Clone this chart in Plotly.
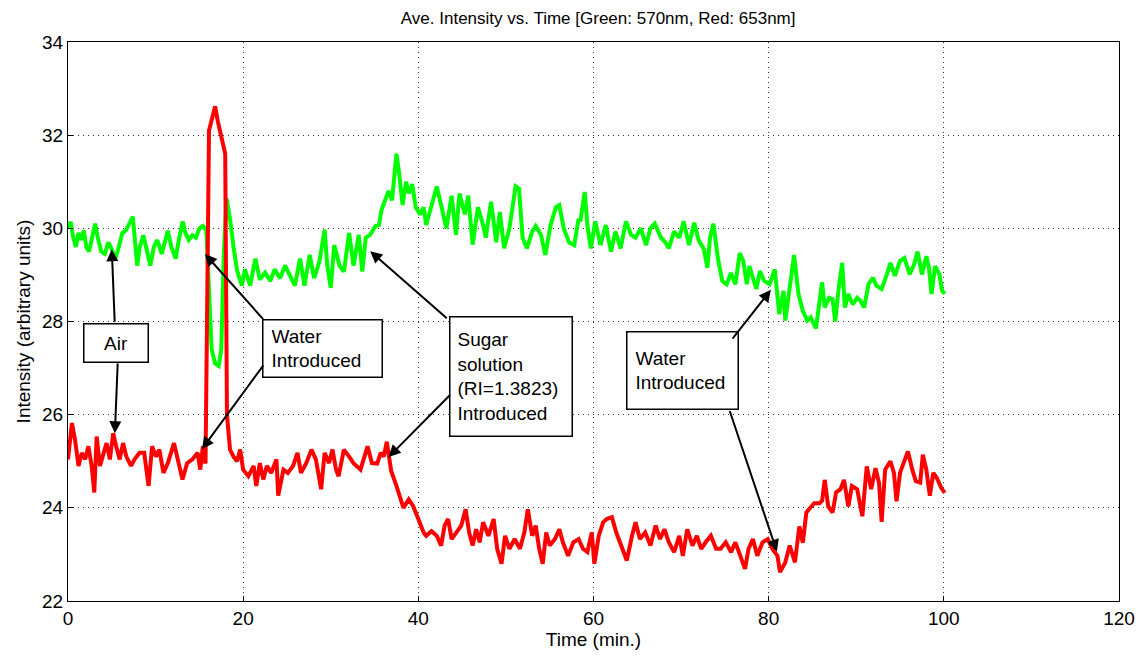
import plotly.graph_objects as go

# Average intensity at 570 nm (green channel)
green_t = [0.0, 0.3, 0.6, 0.9, 1.2, 1.5, 1.8, 2.1, 2.4, 2.7, 3.1, 3.4, 3.8, 4.2, 4.6, 5.0, 5.4, 5.8, 6.2, 6.6,
           7.0, 7.4, 7.9, 8.2, 8.6, 9.0, 9.4, 9.8, 10.2, 10.7, 11.0, 11.4, 11.8, 12.3, 12.6, 13.1, 13.4, 13.8, 14.2, 14.6,
           15.0, 15.4, 15.8, 16.1, 16.4, 16.8, 17.2, 17.5, 17.8, 18.1, 18.5, 18.9, 19.3, 19.85, 20.2, 20.8, 21.4, 21.9, 22.5, 23.1,
           23.6, 24.2, 24.8, 25.3, 25.9, 26.5, 27.0, 27.6, 28.1, 28.7, 29.3, 29.6, 30.0, 30.4, 31.0, 31.5, 32.1, 32.6, 33.2, 33.6,
           34.0, 34.5, 35.1, 35.5, 35.8, 36.2, 36.6, 37.0, 37.5, 37.8, 38.2, 38.6, 38.9, 39.3, 39.7, 40.2, 40.6, 40.9, 41.5, 42.1,
           42.6, 43.2, 43.8, 44.3, 44.7, 45.3, 45.7, 46.2, 46.8, 47.4, 47.7, 48.3, 48.9, 49.3, 49.8, 50.4, 51.1, 51.5, 51.9, 52.4,
           53.0, 53.4, 54.0, 54.5, 55.1, 55.7, 56.1, 56.6, 57.2, 57.8, 58.3, 58.5, 59.0, 59.3, 59.7, 60.2, 60.8, 61.4, 62.0, 62.5,
           63.1, 63.7, 64.3, 64.8, 65.4, 66.0, 66.5, 67.0, 67.7, 68.2, 68.6, 69.2, 69.8, 70.3, 70.9, 71.5, 72.0, 72.6, 73.0, 73.3,
           73.7, 74.2, 74.7, 75.2, 75.7, 76.2, 76.7, 77.1, 77.5, 77.8, 78.2, 78.6, 79.0, 79.5, 80.1, 80.7, 81.2, 81.7, 81.9, 82.4,
           82.9, 83.4, 83.9, 84.4, 84.8, 85.4, 85.8, 86.1, 86.4, 86.9, 87.3, 87.6, 88.0, 88.4, 88.7, 89.1, 89.6, 90.1, 90.5, 90.9,
           91.4, 91.9, 92.3, 92.9, 93.5, 93.9, 94.4, 95.0, 95.5, 96.1, 96.6, 97.0, 97.5, 98.0, 98.3, 98.6, 99.0, 99.5, 99.8, 100.1]
green_v = [30.0, 30.14, 29.8, 29.6, 29.9, 29.75, 29.95, 29.6, 29.5, 29.75, 30.1, 29.8, 29.5, 29.45, 29.7, 29.55, 29.35, 29.6, 29.9, 29.95,
           30.1, 30.25, 29.2, 29.6, 29.85, 29.5, 29.2, 29.6, 29.75, 29.45, 29.7, 29.95, 29.6, 29.35, 29.7, 30.15, 29.9, 29.75, 29.85, 29.8,
           30.0, 30.05, 29.95, 28.5, 27.4, 27.1, 27.05, 27.4, 29.5, 30.65, 30.2, 29.6, 29.1, 28.77, 29.12, 28.77, 29.35, 28.9, 29.05, 28.87,
           29.12, 28.93, 29.2, 29.0, 28.77, 29.35, 28.77, 29.43, 28.93, 29.28, 29.97, 29.2, 28.72, 29.64, 29.2, 29.07, 29.9, 29.2, 29.86, 29.07,
           29.8, 29.86, 30.05, 30.07, 30.4, 30.6, 30.8, 30.6, 31.6, 31.2, 30.5, 31.0, 30.75, 30.95, 30.45, 30.3, 30.45, 30.07, 30.45, 30.9,
           30.5, 30.0, 30.7, 29.86, 30.75, 30.3, 30.7, 29.65, 30.45, 30.07, 29.8, 30.57, 29.7, 30.35, 29.57, 30.0, 30.9, 30.85, 29.8, 29.57,
           29.93, 30.05, 29.86, 29.43, 30.07, 30.45, 30.5, 30.0, 29.7, 29.64, 30.2, 30.15, 30.78, 30.07, 29.57, 30.15, 29.64, 30.07, 29.5, 29.93,
           29.57, 30.15, 29.86, 29.8, 30.0, 29.64, 30.0, 30.1, 29.8, 29.7, 29.57, 29.93, 29.8, 30.15, 29.64, 30.12, 29.75, 29.55, 29.15, 29.79,
           30.1, 29.36, 28.87, 28.8, 29.04, 28.8, 29.47, 29.3, 28.8, 29.19, 28.94, 28.7, 29.08, 28.87, 28.8, 29.12, 28.16, 28.66, 28.02, 28.8,
           29.43, 28.59, 28.23, 28.02, 28.09, 27.85, 28.37, 28.84, 28.3, 28.51, 28.48, 28.0, 28.73, 29.26, 28.3, 28.59, 28.37, 28.51, 28.44, 28.3,
           28.8, 28.94, 28.77, 28.7, 29.01, 29.26, 28.98, 29.3, 29.36, 29.01, 29.22, 29.5, 29.01, 29.4, 29.15, 28.59, 29.19, 29.01, 28.66, 28.59]

# Average intensity at 653 nm (red channel)
red_t = [0.0, 0.45, 0.8, 1.2, 1.58, 1.96, 2.33, 2.7, 3.0, 3.27, 3.65, 4.03, 4.4, 4.78, 5.16, 5.5, 5.9, 6.29, 6.66, 7.2,
         7.6, 8.17, 8.7, 9.2, 9.6, 10.05, 10.43, 10.9, 11.4, 12.1, 12.6, 13.07, 13.6, 14.2, 14.8, 15.1, 15.4, 15.7, 16.1, 16.5,
         16.8, 17.1, 17.4, 17.7, 17.95, 18.15, 18.5, 18.9, 19.3, 19.65, 20.0, 20.6, 21.2, 21.5, 21.9, 22.3, 22.7, 23.2, 23.8, 24.0,
         24.6, 25.1, 25.7, 26.2, 26.6, 27.2, 27.8, 28.3, 28.9, 29.3, 29.8, 30.2, 30.6, 30.9, 31.5, 32.1, 32.6, 33.4, 34.2, 34.7,
         35.3, 35.7, 36.05, 36.4, 36.7, 36.9, 37.5, 38.3, 38.9, 39.4, 40.0, 40.6, 40.9, 41.5, 42.1, 42.6, 43.0, 43.4, 43.8, 44.3,
         44.9, 45.4, 45.8, 46.2, 46.6, 47.0, 47.4, 48.0, 48.6, 49.0, 49.5, 49.9, 50.4, 51.0, 51.6, 52.1, 52.5, 53.0, 53.4, 53.8,
         54.2, 54.6, 55.0, 55.6, 56.1, 56.5, 57.1, 57.7, 58.3, 58.8, 59.3, 59.8, 60.1, 60.6, 61.1, 61.5, 62.1, 62.6, 63.2, 63.8,
         64.4, 64.8, 65.3, 65.9, 66.5, 67.1, 67.6, 68.1, 68.6, 69.2, 69.8, 70.2, 70.7, 71.3, 71.8, 72.3, 72.8, 73.4, 74.0, 74.5,
         75.1, 75.7, 76.2, 76.8, 77.3, 77.7, 78.2, 78.7, 79.3, 79.9, 80.4, 81.0, 81.3, 81.9, 82.4, 83.0, 83.5, 83.9, 84.3, 84.6,
         85.2, 85.8, 86.1, 86.4, 86.8, 87.3, 87.7, 88.2, 88.6, 89.1, 89.5, 90.1, 90.7, 91.2, 91.7, 92.2, 92.6, 92.9, 93.3, 93.9,
         94.3, 94.6, 95.0, 95.4, 95.9, 96.4, 96.8, 97.3, 97.6, 98.0, 98.4, 98.8, 99.2, 99.7, 100.1]
red_v = [25.04, 25.82, 25.46, 24.9, 25.18, 25.04, 25.32, 24.9, 24.33, 25.53, 24.9, 25.18, 25.39, 25.04, 25.6, 25.32, 25.04, 25.39, 25.1, 24.9,
         25.04, 25.18, 25.18, 24.47, 25.32, 25.1, 25.25, 24.75, 24.96, 25.39, 24.96, 24.61, 24.96, 25.04, 25.18, 24.82, 25.32, 24.95, 32.1, 32.45,
         32.62, 32.3, 32.05, 31.75, 31.6, 26.0, 25.25, 25.1, 25.0, 25.25, 24.82, 24.68, 24.9, 24.47, 24.96, 24.61, 24.9, 24.75, 25.04, 24.26,
         24.82, 24.75, 24.9, 25.18, 24.75, 24.96, 25.25, 25.04, 24.4, 25.18, 24.96, 25.25, 24.82, 24.68, 25.25, 25.1, 24.96, 24.82, 25.32, 24.96,
         24.95, 25.18, 25.1, 25.42, 25.04, 24.79, 24.47, 24.0, 24.18, 24.04, 23.76, 23.47, 23.4, 23.5, 23.4, 23.19, 23.62, 23.76, 23.33, 23.47,
         23.62, 23.97, 23.47, 23.19, 23.54, 23.26, 23.69, 23.4, 23.76, 23.12, 22.8, 23.4, 23.12, 23.33, 23.12, 23.47, 23.97, 23.4, 23.62, 23.12,
         22.8, 23.47, 23.19, 23.33, 23.54, 23.26, 22.97, 23.26, 23.33, 23.12, 23.05, 23.47, 22.8, 23.4, 23.69, 23.76, 23.8, 23.47, 23.19, 22.87,
         23.4, 23.69, 23.33, 23.47, 23.19, 23.62, 23.33, 23.54, 23.26, 23.05, 23.4, 22.97, 23.54, 23.19, 23.4, 23.12, 23.26, 23.4, 23.12, 23.12,
         23.26, 23.05, 23.26, 22.97, 22.69, 23.12, 23.33, 22.97, 23.26, 23.33, 23.12, 22.97, 22.62, 22.83, 23.19, 22.83, 23.6, 23.25, 23.9, 23.97,
         24.1, 24.1, 24.15, 24.6, 24.03, 23.9, 24.33, 24.4, 24.6, 24.03, 24.47, 24.4, 23.82, 24.89, 24.4, 24.85, 24.54, 23.7, 24.82, 25.0,
         24.75, 24.14, 24.75, 24.96, 25.21, 24.82, 24.57, 24.54, 25.14, 24.82, 24.26, 24.75, 24.64, 24.43, 24.32]

x_ticks = [0, 20, 40, 60, 80, 100, 120]
y_ticks = [22, 24, 26, 28, 30, 32, 34]

FONT = "Liberation Sans, Arial, sans-serif"

fig = go.Figure()
fig.add_trace(go.Scatter(x=green_t, y=green_v, mode="lines",
                         line=dict(color="#00ff00", width=4), name="Green 570nm"))
fig.add_trace(go.Scatter(x=red_t, y=red_v, mode="lines",
                         line=dict(color="#ff0000", width=4), name="Red 653nm"))

# Label boxes: (text, x, y, outer width, outer height, align, inner padding)
boxes = [
    ("Air", 5.51, 27.54, 63, 37, "center", 2),
    ("Water<br>Introduced", 29.07, 27.43, 118, 56, "left", 8),
    ("Sugar<br>solution<br>(RI=1.3823)<br>Introduced", 50.56, 26.83, 121, 118, "left", 7),
    ("Water<br>Introduced", 70.2, 26.94, 110, 76, "left", 8),
]
annotations = []
for text, bx, by, bw, bh, al, pad in boxes:
    annotations.append(dict(
        x=bx, y=by, xref="x", yref="y", text=text, showarrow=False,
        width=bw - 2 * pad, height=bh - 2 * pad, align=al, valign="middle",
        bgcolor="white", bordercolor="black", borderwidth=1.5, borderpad=pad,
        font=dict(family=FONT, size=19, color="black"),
    ))

# Arrows: (tail x, tail y, head x, head y)
arrows = [
    (5.34, 27.96, 5.0, 29.55),
    (5.68, 27.13, 5.35, 25.6),
    (22.43, 28.02, 15.63, 29.45),
    (22.43, 27.09, 15.29, 25.26),
    (43.42, 28.04, 34.5, 29.51),
    (43.76, 26.45, 36.6, 25.09),
    (75.74, 27.6, 80.26, 28.68),
    (75.5, 26.11, 80.94, 23.06),
]
for tx, ty, hx, hy in arrows:
    annotations.append(dict(
        x=hx, y=hy, ax=tx, ay=ty, xref="x", yref="y", axref="x", ayref="y",
        text="", showarrow=True, arrowhead=2, arrowsize=1.2, arrowwidth=2,
        arrowcolor="black", standoff=0, startstandoff=0,
    ))

fig.update_layout(
    width=1147, height=656,
    margin=dict(l=68, r=17, t=42, b=50),
    paper_bgcolor="white", plot_bgcolor="white",
    showlegend=False,
    title=dict(text="Ave. Intensity vs. Time [Green: 570nm, Red: 653nm]",
               x=0.5215, xanchor="center", y=0.972, yanchor="middle",
               font=dict(family=FONT, size=17, color="black")),
    annotations=annotations,
)
fig.update_xaxes(
    range=[0, 120], tickvals=x_ticks, ticktext=[str(v) for v in x_ticks],
    showline=True, mirror=True, linecolor="black", linewidth=1,
    ticks="inside", ticklen=5, tickcolor="black",
    showgrid=True, gridcolor="#333", griddash="1px,4px", gridwidth=1,
    zeroline=False, tickfont=dict(family=FONT, size=19, color="black"),
    title=dict(text="Time (min.)", font=dict(family=FONT, size=19, color="black"), standoff=2),
)
fig.update_yaxes(
    range=[22, 34], tickvals=y_ticks, ticktext=[str(v) for v in y_ticks],
    showline=True, mirror=True, linecolor="black", linewidth=1,
    ticks="inside", ticklen=5, tickcolor="black",
    showgrid=True, gridcolor="#333", griddash="1px,4px", gridwidth=1,
    zeroline=False, tickfont=dict(family=FONT, size=19, color="black"),
    title=dict(text="Intensity (arbitrary units)", font=dict(family=FONT, size=19, color="black"), standoff=6),
)

fig.write_html("out.html")
